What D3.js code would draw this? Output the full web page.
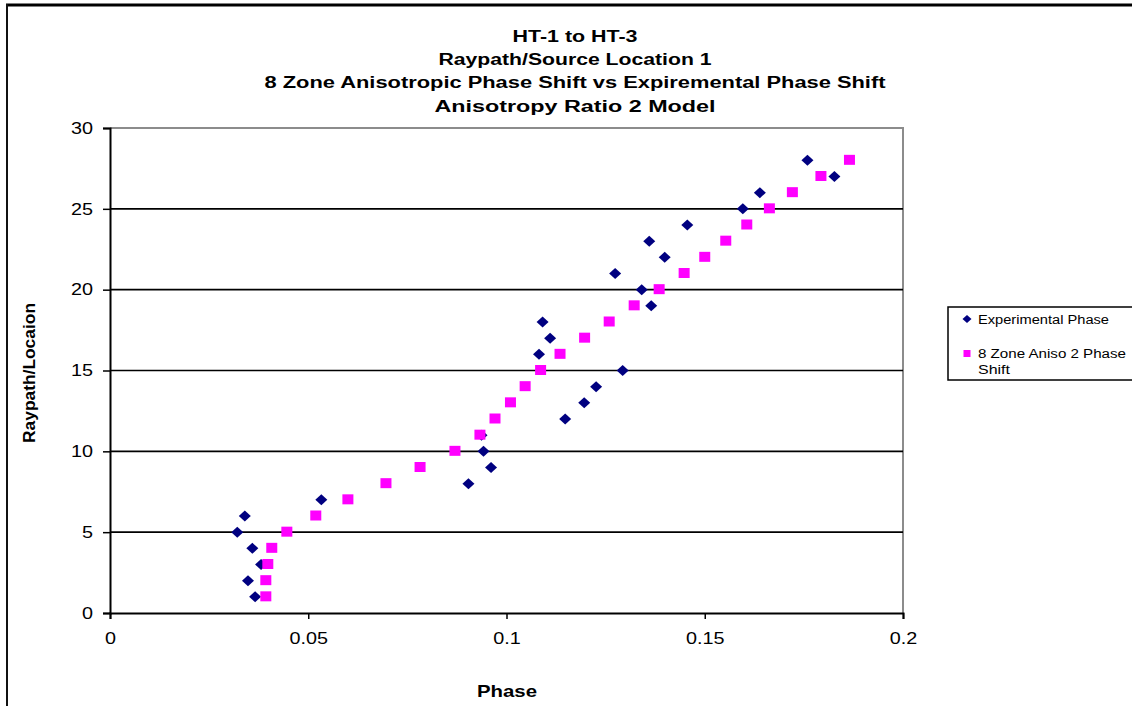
<!DOCTYPE html>
<html><head><meta charset="utf-8">
<script src="https://cdnjs.cloudflare.com/ajax/libs/d3/7.8.5/d3.min.js"></script>
<style>body{margin:0;background:#fff;overflow:hidden} svg{display:block}</style>
</head><body>
<svg id="c" width="1132" height="706"></svg>
<script>
const raypaths = [1,2,3,4,5,6,7,8,9,10,11,12,13,14,15,16,17,18,19,20,21,22,23,24,25,26,27,28];
const experimentalPhase = [0.0366,0.0348,0.0381,0.0359,0.0321,0.0340,0.0533,0.0904,0.0961,0.0942,0.0937,0.1148,0.1196,0.1226,0.1293,0.1082,0.1110,0.1091,0.1365,0.1341,0.1274,0.1399,0.1360,0.1456,0.1596,0.1639,0.1827,0.1759];
const modelPhase = [0.0393,0.0393,0.0398,0.0408,0.0446,0.0519,0.0600,0.0696,0.0782,0.0870,0.0933,0.0971,0.1010,0.1047,0.1086,0.1135,0.1197,0.1259,0.1322,0.1385,0.1448,0.1500,0.1553,0.1606,0.1663,0.1721,0.1793,0.1865];
const xTicks = [0,0.05,0.1,0.15,0.2];
const yTicks = [0,5,10,15,20,25,30];
const titleLines = ["HT-1 to HT-3","Raypath/Source Location 1","8 Zone Anisotropic Phase Shift vs Expiremental Phase Shift","Anisotropy Ratio 2 Model"];
const seriesNames = ["Experimental Phase","8 Zone Aniso 2 Phase Shift"];

const svg = d3.select("#c");
const FONT = "'Liberation Sans', Arial, sans-serif";
const SX = 1.2; // horizontal stretch of the original rendering
const stretch = sel => sel.each(function(){
  const w = this.getComputedTextLength();
  d3.select(this).attr("textLength", w*SX).attr("lengthAdjust","spacingAndGlyphs");
});
const x = d3.scaleLinear().domain([0,0.2]).range([110,903]);
const y = d3.scaleLinear().domain([0,30]).range([613,128]);

// outer frame
svg.append("line").attr("x1",6).attr("x2",1132).attr("y1",5).attr("y2",5)
  .attr("stroke","#000").attr("stroke-width",3);
svg.append("line").attr("x1",7).attr("x2",7).attr("y1",4).attr("y2",706)
  .attr("stroke","#111").attr("stroke-width",2);

// plot area border (gray) top and right
svg.append("path").attr("d",`M110,128H903V613`).attr("fill","none")
  .attr("stroke","#8c8c8c").attr("stroke-width",2);

// gridlines
svg.append("g").selectAll("line").data(yTicks.filter(d=>d>0 && d<30)).join("line")
  .attr("x1",110).attr("x2",903).attr("y1",d=>y(d)).attr("y2",d=>y(d))
  .attr("stroke","#000").attr("stroke-width",1.6);

// axes
const xAxis = svg.append("g").attr("transform","translate(0,613)")
  .call(d3.axisBottom(x).tickValues(xTicks).tickSize(6).tickPadding(13).tickFormat(d=>d===0?"0":String(d)));
const yAxis = svg.append("g").attr("transform","translate(110,0)")
  .call(d3.axisLeft(y).tickValues(yTicks).tickSize(7).tickPadding(10));
[xAxis,yAxis].forEach(g=>{
  g.select(".domain").attr("stroke","#000").attr("stroke-width",2);
  g.selectAll(".tick line").attr("stroke","#000").attr("stroke-width",1.5);
  g.selectAll(".tick text").attr("font-family",FONT).attr("font-size",16.5).attr("fill","#000").call(stretch);
});

// title
const title = svg.append("g");
const titleW = [125,273,621,281];
titleLines.forEach((t,i)=>{
  title.append("text").attr("x",575).attr("y",41.5+i*23.4).attr("text-anchor","middle")
    .attr("font-family",FONT).attr("font-weight","bold").attr("font-size",16)
    .attr("textLength",titleW[i]).attr("lengthAdjust","spacingAndGlyphs").text(t);
});

// axis titles
svg.append("text").attr("x",507).attr("y",697).attr("text-anchor","middle")
  .attr("font-family",FONT).attr("font-weight","bold").attr("font-size",16.5)
  .attr("textLength",60).attr("lengthAdjust","spacingAndGlyphs").text("Phase");
svg.append("text").attr("transform","translate(35,373) rotate(-90)").attr("text-anchor","middle")
  .attr("font-family",FONT).attr("font-weight","bold").attr("font-size",17)
  .attr("textLength",140).attr("lengthAdjust","spacingAndGlyphs").text("Raypath/Locaion");

// series
const diamond = (cx,cy,w,h)=>`M${cx},${cy-h}L${cx+w},${cy}L${cx},${cy+h}L${cx-w},${cy}Z`;
svg.append("g").selectAll("path").data(raypaths).join("path")
  .attr("d",(d,i)=>diamond(x(experimentalPhase[i]),y(d),6,5.5))
  .attr("fill","#000080");
svg.append("g").selectAll("rect").data(raypaths).join("rect")
  .attr("x",(d,i)=>x(modelPhase[i])-5.5).attr("y",d=>y(d)-5.5)
  .attr("width",11).attr("height",10).attr("fill","#FF00FF");

// legend
const lg = svg.append("g");
lg.append("rect").attr("x",948).attr("y",307).attr("width",200).attr("height",73)
  .attr("fill","#fff").attr("stroke","#000").attr("stroke-width",1.5);
lg.append("path").attr("d",diamond(967,319,4.5,4)).attr("fill","#000080");
lg.append("rect").attr("x",963.5).attr("y",350).attr("width",7).attr("height",7).attr("fill","#FF00FF");
lg.append("text").attr("x",978).attr("y",323.5).attr("font-family",FONT).attr("font-size",12)
  .attr("textLength",131).attr("lengthAdjust","spacingAndGlyphs").text(seriesNames[0]);
lg.append("text").attr("x",978).attr("y",357.5).attr("font-family",FONT).attr("font-size",12)
  .attr("textLength",148).attr("lengthAdjust","spacingAndGlyphs").text("8 Zone Aniso 2 Phase");
lg.append("text").attr("x",978).attr("y",373.5).attr("font-family",FONT).attr("font-size",12)
  .attr("textLength",32).attr("lengthAdjust","spacingAndGlyphs").text("Shift");
</script>
</body></html>
